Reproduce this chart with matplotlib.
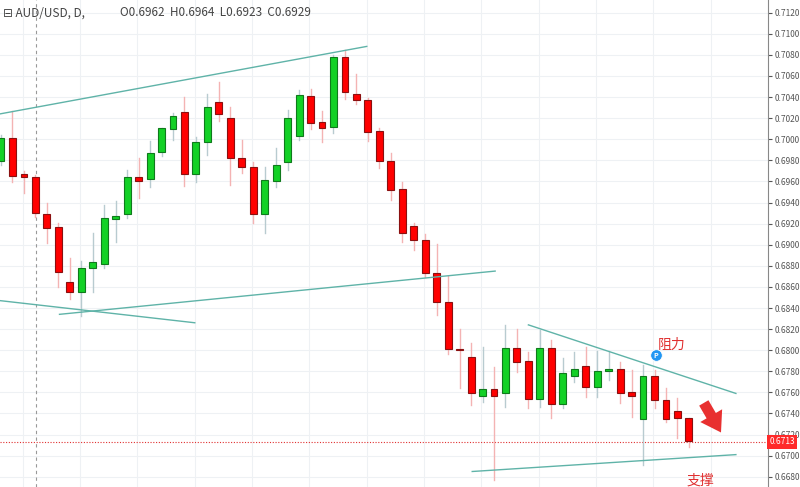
import matplotlib.pyplot as plt
from matplotlib.patches import Rectangle

plt.rcParams['font.family'] = ['Noto Sans CJK SC', 'DejaVu Sans']

# daily AUD/USD candles
opens = [.6979, .7001, .6967, .6964, .6929, .6917, .6865, .6855, .6878, .6882,
         .6924, .6929, .6964, .6962, .6988, .7010, .7026, .6967, .6997, .7035,
         .7020, .6982, .6974, .6929, .6960, .6978, .7003, .7041, .7016, .7012,
         .7078, .7043, .7037, .7008, .6979, .6953, .6918, .6904, .6873, .6846,
         .6801, .6794, .6757, .6763, .6759, .6802, .6790, .6754, .6802, .6749,
         .6776, .6785, .6765, .6780, .6782, .6760, .6735, .6776, .6753, .6742, .6736]
highs = [.7004, .7027, .6970, .6966, .6940, .6921, .6887, .6885, .6911, .6938,
         .6941, .6971, .6982, .6998, .7011, .7025, .7040, .7002, .7043, .7054,
         .7031, .6999, .6978, .6974, .6992, .7028, .7047, .7048, .7027, .7080,
         .7085, .7062, .7039, .7011, .6987, .6959, .6921, .6910, .6901, .6870,
         .6820, .6807, .6803, .6784, .6824, .6820, .6798, .6819, .6810, .6793,
         .6798, .6803, .6799, .6799, .6789, .6781, .6786, .6781, .6764, .6755, .6736]
lows = [.6976, .6959, .6949, .6926, .6902, .6860, .6849, .6832, .6855, .6878,
        .6903, .6925, .6944, .6955, .6984, .6999, .6956, .6959, .6985, .7017,
        .6957, .6968, .6921, .6911, .6955, .6971, .6999, .7010, .6997, .7006,
        .7038, .7033, .6998, .6973, .6942, .6903, .6895, .6869, .6833, .6796,
        .6764, .6748, .6751, .6677, .6746, .6779, .6745, .6746, .6736, .6745,
        .6770, .6756, .6756, .6772, .6750, .6737, .6691, .6745, .6732, .6717, .6708]
closes = [.7001, .6965, .6964, .6930, .6916, .6874, .6855, .6878, .6884, .6925,
          .6927, .6964, .6960, .6987, .7011, .7022, .6967, .6997, .7031, .7024,
          .6982, .6974, .6929, .6961, .6976, .7020, .7042, .7015, .7011, .7078,
          .7045, .7037, .7007, .6979, .6952, .6911, .6904, .6873, .6846, .6801,
          .6800, .6759, .6763, .6757, .6802, .6789, .6754, .6802, .6749, .6778,
          .6782, .6765, .6780, .6782, .6759, .6757, .6776, .6753, .6735, .6736, .6714]

last_price = 0.6713
# trend lines as (index, price) pairs
trend_lines = [
    ((-0.1, .7024), (31.9, .7088)),
    ((5.1, .6834), (43.1, .6875)),
    ((-0.1, .6847), (16.9, .6826)),
    ((46.0, .6824), (64.1, .6759)),
    ((41.1, .6685), (64.1, .6701)),
]
price_ticks = [0.6680 + 0.0020 * k for k in range(23)]

fig = plt.figure(figsize=(8, 4.87), dpi=100)
ax = fig.add_axes([0, 0, 0.96, 1])
ax.set_xlim(-0.09, 66.9)
ax.set_ylim(0.66703, 0.71320)

for x in range(1, 66, 5):
    ax.axvline(x + 0.9, color='#eef1f4', lw=0.8, zorder=0)
for p in price_ticks:
    ax.axhline(p, color='#eef1f4', lw=0.8, zorder=0)

w = 0.6
for i, (o, h, l, c) in enumerate(zip(opens, highs, lows, closes)):
    up = c >= o
    body = '#13d126' if up else '#ff0000'
    edge = '#0f7a1c' if up else '#8a1010'
    wick = '#b8cbd0' if up else '#f4b3b3'
    ax.plot([i, i], [l, h], color=wick, lw=1, zorder=2)
    ax.add_patch(Rectangle((i - w / 2, min(o, c)), w, max(abs(c - o), 0.00004),
                           facecolor=body, edgecolor=edge, lw=0.8, zorder=3))

for (x0, y0), (x1, y1) in trend_lines:
    ax.plot([x0, x1], [y0, y1], color='#5fb3a8', lw=1, zorder=4)

ax.axvline(3.05, color='#999999', lw=0.8, ls=(0, (3, 3)), zorder=1)
ax.axhline(last_price, color='#e03030', lw=0.8, ls=(0, (1, 1.5)), zorder=1)

ax.text(57.3, 0.6801, '阻力', color='#e03030', fontsize=10, zorder=6)
ax.scatter([57.1], [0.6795], s=70, color='#2196f3', edgecolors='white', lw=0.6, zorder=6)
ax.text(57.1, 0.6795, 'P', color='white', fontsize=5, ha='center', va='center', zorder=7,
        fontweight='bold')
ax.text(59.8, 0.6673, '支撑', color='#e03030', fontsize=10, zorder=6)
ax.annotate('', xy=(62.8, 0.6722), xytext=(61.3, 0.6750),
            arrowprops=dict(arrowstyle='simple,head_width=1.3,head_length=1.0,tail_width=0.55',
                            mutation_scale=14, color='#e83030', lw=0, shrinkA=0, shrinkB=0),
            zorder=6)

ax.set_xticks([])
ax.set_yticks(price_ticks)
ax.yaxis.tick_right()
ax.tick_params(axis='y', length=3, labelsize=6, colors='#555555', pad=2)
ax.set_yticklabels(['%.4f' % p for p in price_ticks])
for s in ['top', 'left', 'bottom']:
    ax.spines[s].set_visible(False)
ax.spines['right'].set_color('#888888')

ax.text(1.002, last_price, '0.6713', transform=ax.get_yaxis_transform(), fontsize=6,
        color='white', va='center', ha='left', zorder=8,
        bbox=dict(boxstyle='square,pad=0.25', fc='#ff2a2a', ec='none'))

fig.text(0.004, 0.974, '⊟ AUD/USD, D,', fontsize=8.5, color='#444444', va='center')
fig.text(0.15, 0.974, 'O0.6962  H0.6964  L0.6923  C0.6929', fontsize=8.5,
         color='#444444', va='center')

fig.savefig('out.png', dpi=100)
